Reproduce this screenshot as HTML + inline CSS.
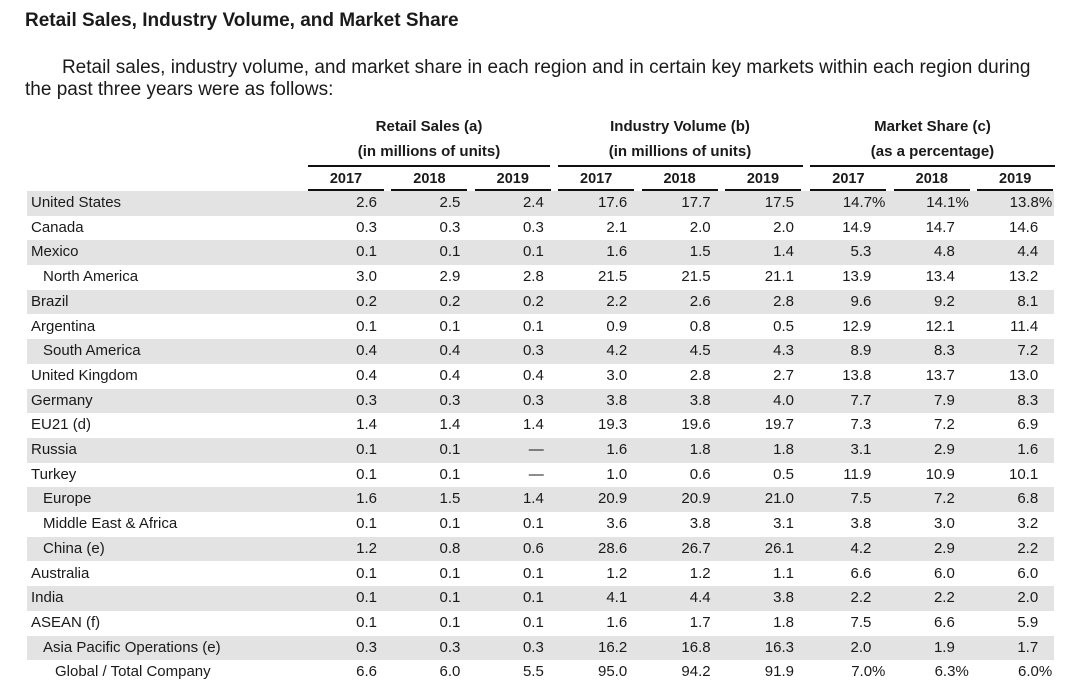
<!DOCTYPE html>
<html><head><meta charset="utf-8">
<style>
body{margin:0;width:1080px;height:695px;background:#fff;font-family:"Liberation Sans",Arial,sans-serif;color:#1a1a1a;position:relative;overflow:hidden}
.a{position:absolute;white-space:nowrap}
#title{left:25px;top:10px;font-size:19px;font-weight:bold}
#intro{left:25px;top:57px;font-size:19px;line-height:22px}
.gh{font-size:15px;font-weight:bold;text-align:center}
.ln{position:absolute;height:2px;background:#111}
.yr{font-size:14.5px;font-weight:bold;text-align:center;width:76px}
.row{position:absolute;left:27px;width:1027px;height:24.7px}
.row.sh{background:#e3e3e3}
.lab{position:absolute;top:3px;font-size:15px}
.val{position:absolute;top:3px;font-size:15px;text-align:right;width:76px}
</style></head><body>
<div id="title" class="a">Retail Sales, Industry Volume, and Market Share</div>
<div id="intro" class="a">&nbsp;&nbsp;&nbsp;&nbsp;&nbsp;&nbsp;&nbsp;Retail sales, industry volume, and market share in each region and in certain key markets within each region during<br>the past three years were as follows:</div>

<div class="a gh" style="left:308px;width:242px;top:118px">Retail Sales (a)</div>
<div class="a gh" style="left:308px;width:242px;top:143px">(in millions of units)</div>
<div class="a gh" style="left:558px;width:244px;top:118px">Industry Volume (b)</div>
<div class="a gh" style="left:558px;width:244px;top:143px">(in millions of units)</div>
<div class="a gh" style="left:810px;width:245px;top:118px">Market Share (c)</div>
<div class="a gh" style="left:810px;width:245px;top:143px">(as a percentage)</div>
<div class="ln" style="left:308px;width:242px;top:165px"></div>
<div class="ln" style="left:558px;width:245px;top:165px"></div>
<div class="ln" style="left:810px;width:245px;top:165px"></div>
<div id="hdr"></div>
<div id="rows"></div>
<script>
const years=["2017","2018","2019"];
const labels=["United States","Canada","Mexico","North America","Brazil","Argentina","South America","United Kingdom","Germany","EU21 (d)","Russia","Turkey","Europe","Middle East & Africa","China (e)","Australia","India","ASEAN (f)","Asia Pacific Operations (e)","Global / Total Company"];
const indent=[0,0,0,1,0,0,1,0,0,0,0,0,1,1,1,0,0,0,1,2];
const retail17=["2.6","0.3","0.1","3.0","0.2","0.1","0.4","0.4","0.3","1.4","0.1","0.1","1.6","0.1","1.2","0.1","0.1","0.1","0.3","6.6"];
const retail18=["2.5","0.3","0.1","2.9","0.2","0.1","0.4","0.4","0.3","1.4","0.1","0.1","1.5","0.1","0.8","0.1","0.1","0.1","0.3","6.0"];
const retail19=["2.4","0.3","0.1","2.8","0.2","0.1","0.3","0.4","0.3","1.4","—","—","1.4","0.1","0.6","0.1","0.1","0.1","0.3","5.5"];
const vol17=["17.6","2.1","1.6","21.5","2.2","0.9","4.2","3.0","3.8","19.3","1.6","1.0","20.9","3.6","28.6","1.2","4.1","1.6","16.2","95.0"];
const vol18=["17.7","2.0","1.5","21.5","2.6","0.8","4.5","2.8","3.8","19.6","1.8","0.6","20.9","3.8","26.7","1.2","4.4","1.7","16.8","94.2"];
const vol19=["17.5","2.0","1.4","21.1","2.8","0.5","4.3","2.7","4.0","19.7","1.8","0.5","21.0","3.1","26.1","1.1","3.8","1.8","16.3","91.9"];
const share17=["14.7%","14.9","5.3","13.9","9.6","12.9","8.9","13.8","7.7","7.3","3.1","11.9","7.5","3.8","4.2","6.6","2.2","7.5","2.0","7.0%"];
const share18=["14.1%","14.7","4.8","13.4","9.2","12.1","8.3","13.7","7.9","7.2","2.9","10.9","7.2","3.0","2.9","6.0","2.2","6.6","1.9","6.3%"];
const share19=["13.8%","14.6","4.4","13.2","8.1","11.4","7.2","13.0","8.3","6.9","1.6","10.1","6.8","3.2","2.2","6.0","2.0","5.9","1.7","6.0%"];
const cols=[retail17,retail18,retail19,vol17,vol18,vol19,share17,share18,share19];
const colNames=["retail-2017","retail-2018","retail-2019","volume-2017","volume-2018","volume-2019","share-2017","share-2018","share-2019"];
const colX=i=>308+i*83.4+(i>=6?2:0);
const hdr=document.getElementById('hdr');
for(let i=0;i<9;i++){
  const y=document.createElement('div');
  y.className='a yr';y.style.left=colX(i)+'px';y.style.top='171px';y.textContent=years[i%3];
  
  
  hdr.appendChild(y);
  const l=document.createElement('div');
  l.className='ln';l.style.left=colX(i)+'px';l.style.width='76px';l.style.top='189px';
  
  
  hdr.appendChild(l);
}
const rows=document.getElementById('rows');
const rowY=r=>191+r*24.7;
labels.forEach((lab,r)=>{
  const row=document.createElement('div');
  row.className='row'+(r%2===0?' sh':'');
  row.style.top=rowY(r)+'px';
  
  
  const l=document.createElement('div');
  l.className='lab';l.style.left=(4+indent[r]*12)+'px';l.textContent=lab;
  
  
  row.appendChild(l);
  cols.forEach((c,i)=>{
    const v=document.createElement('div');
    v.className='val';
    v.style.left=(colX(i)-27)+'px';
    let t=c[r];
    let pad=7;
    if(i>=6){pad=t.endsWith('%')?1:15;}
    v.style.paddingRight=pad+'px';
    v.style.width=(76-pad)+'px';
    v.textContent=t;
    
    
    row.appendChild(v);
  });
  rows.appendChild(row);
});
</script>
</body></html>
